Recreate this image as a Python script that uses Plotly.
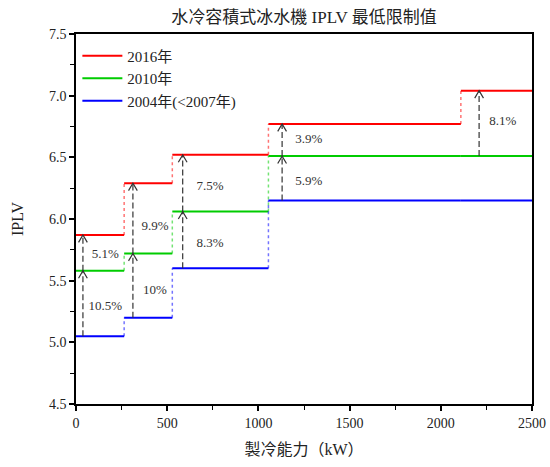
import plotly.graph_objects as go

# step boundaries (kW)
edges = [0, 264, 528, 1055, 2110, 2500]

# IPLV minimum per capacity band
iplv_2016 = [5.87, 6.29, 6.52, 6.77, 7.04]
iplv_2010 = [5.58, 5.72, 6.06, 6.51, 6.51]
iplv_2004 = [5.05, 5.20, 5.60, 6.15, 6.15]

# improvement arrows: x, from, to
arrow_x = [38, 38, 312, 312, 585, 585, 1130, 1130, 2210]
arrow_from = [5.05, 5.58, 5.20, 5.72, 5.60, 6.06, 6.15, 6.51, 6.51]
arrow_to = [5.58, 5.87, 5.72, 6.29, 6.06, 6.52, 6.51, 6.77, 7.04]

# percentage labels
pct_text = ['10.5%', '5.1%', '10%', '9.9%', '8.3%', '7.5%', '5.9%', '3.9%', '8.1%']
pct_x = [160, 160, 433, 433, 735, 735, 1277, 1277, 2340]
pct_y = [5.29, 5.71, 5.42, 5.94, 5.80, 6.26, 6.30, 6.64, 6.79]

series = [
    ('2016年', iplv_2016, 'red', 'rgba(255,0,0,0.55)'),
    ('2010年', iplv_2010, '#00cc00', 'rgba(0,204,0,0.55)'),
    ('2004年(<2007年)', iplv_2004, 'blue', 'rgba(0,0,255,0.55)'),
]

fig = go.Figure()

for name, vals, col, dotcol in series:
    hx, hy, vx, vy = [], [], [], []
    for i, v in enumerate(vals):
        hx += [edges[i], edges[i + 1], None]
        hy += [v, v, None]
        if i > 0 and vals[i] != vals[i - 1]:
            vx += [edges[i], edges[i], None]
            vy += [vals[i - 1], vals[i], None]
    fig.add_trace(go.Scatter(x=vx, y=vy, mode='lines', showlegend=False,
                             line=dict(color=dotcol, width=1.5, dash='dot')))
    fig.add_trace(go.Scatter(x=hx, y=hy, mode='lines', name=name,
                             line=dict(color=col, width=2)))

# dashed arrows with open heads
ax, ay, cx, cy = [], [], [], []
hw = 24      # half width of head in kW
hh = 0.06    # head height in IPLV
for x, y0, y1 in zip(arrow_x, arrow_from, arrow_to):
    ax += [x, x, None]
    ay += [y0, y1, None]
    cx += [x - hw, x, x + hw, None]
    cy += [y1 - hh, y1, y1 - hh, None]
fig.add_trace(go.Scatter(x=ax, y=ay, mode='lines', showlegend=False,
                         line=dict(color='#333333', width=1.2, dash='6px,3px')))
fig.add_trace(go.Scatter(x=cx, y=cy, mode='lines', showlegend=False,
                         line=dict(color='#333333', width=1.2)))

fig.add_trace(go.Scatter(x=pct_x, y=pct_y, mode='text', text=pct_text, showlegend=False,
                         textfont=dict(size=13, color='#333333',
                                       family='Liberation Serif, Noto Sans CJK TC')))

axis_common = dict(showline=True, linecolor='black', linewidth=1.5, mirror=True,
                   ticks='outside', ticklen=5, tickwidth=1.5, tickcolor='black',
                   showgrid=False, zeroline=False, automargin=False,
                   tickfont=dict(size=14, color='#222222'))

fig.update_layout(
    width=550, height=467,
    margin=dict(l=76, r=18, t=34, b=63),
    plot_bgcolor='white', paper_bgcolor='white',
    font=dict(family='Liberation Serif, Noto Sans CJK TC', color='#222222'),
    title=dict(text='水冷容積式冰水機 IPLV 最低限制值', xref='paper', x=0.5, xanchor='center',
               y=1 - 17 / 467, yanchor='middle', font=dict(size=17)),
    xaxis=dict(range=[0, 2500], dtick=500, title=dict(text='製冷能力（kW）', font=dict(size=16), standoff=14),
               minor=dict(dtick=250, ticks='outside', ticklen=4, tickcolor='black', tickwidth=1.2),
               **axis_common),
    yaxis=dict(range=[4.5, 7.5], dtick=0.5, tickformat='.1f',
               title=dict(text='IPLV', font=dict(size=16), standoff=21),
               minor=dict(dtick=0.25, ticks='outside', ticklen=4, tickcolor='black', tickwidth=1.2),
               **axis_common),
    legend=dict(x=0.003, y=0.985, xanchor='left', yanchor='top', bgcolor='rgba(0,0,0,0)',
                font=dict(size=15), tracegroupgap=0, itemwidth=40),
)

fig.write_html('out.html', config={'displayModeBar': False},
               post_script="document.body.style.margin='0';")
